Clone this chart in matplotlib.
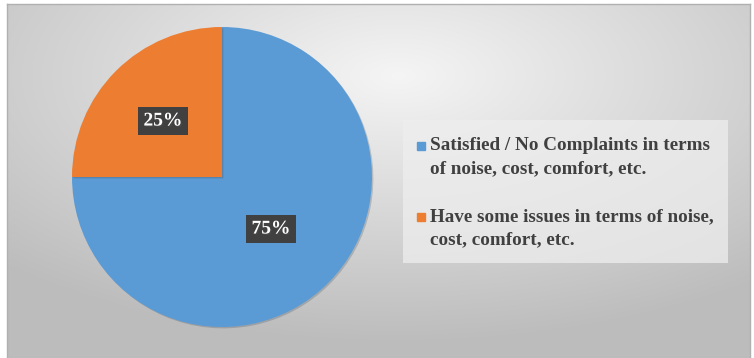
import numpy as np
import matplotlib.pyplot as plt
import matplotlib.patheffects as pe
from matplotlib.patches import Rectangle

# data
labels = ['Satisfied / No Complaints in terms\nof noise, cost, comfort, etc.',
          'Have some issues in terms of noise,\ncost, comfort, etc.']
shares = [75, 25]
colors = ['#5B9BD5', '#ED7D31']

W, H = 754, 358
fig = plt.figure(figsize=(W / 100, H / 100), dpi=100)
fig.patch.set_facecolor('white')

# radial grey gradient background
bg = fig.add_axes([7 / W, 0, (W - 11) / W, (H - 4) / H])
yy, xx = np.mgrid[0:200, 0:400]
cx, cy = 210, 40
d = np.sqrt(((xx - cx) / 400) ** 2 + ((yy - cy) / 200) ** 2)
g = 0.96 - 0.22 * np.clip(d / 0.75, 0, 1)
bg.imshow(np.dstack([g, g, g]), aspect='auto', extent=[0, 1, 0, 1], origin='upper')
bg.set_xlim(0, 1)
bg.set_ylim(0, 1)
for s in bg.spines.values():
    s.set_color('#b0b0b0')
    s.set_linewidth(1)
bg.spines['bottom'].set_visible(False)
bg.set_xticks([])
bg.set_yticks([])

# pie
r = 150
ax = fig.add_axes([(222 - r) / W, (H - 177 - r) / H, 2 * r / W, 2 * r / H])
wedges, _ = ax.pie(shares, colors=colors, startangle=90, counterclock=False,
                   radius=1, wedgeprops=dict(linewidth=0))
for w in wedges:
    w.set_path_effects([pe.SimplePatchShadow(offset=(1, -1), alpha=0.2), pe.Normal()])
ax.set_xlim(-1, 1)
ax.set_ylim(-1, 1)
ax.set_aspect('equal')
ax.axis('off')

# data labels
label_pos = [(0.327, -0.347), (-0.393, 0.373)]
for (x, y), v in zip(label_pos, shares):
    ax.text(x, y, f'{v}%', ha='center', va='center', color='white',
            fontsize=14, fontweight='bold', family='Liberation Serif',
            bbox=dict(boxstyle='square,pad=0.3', fc='#404040', ec='none'),
            path_effects=[pe.withSimplePatchShadow(offset=(1, -1), alpha=0.5)])

# legend
lx0, ly0, lx1, ly1 = 403, 120, 728, 263
box = fig.add_axes([lx0 / W, (H - ly1) / H, (lx1 - lx0) / W, (ly1 - ly0) / H])
box.set_facecolor('#eeeeee')
box.patch.set_alpha(0.75)
for s in box.spines.values():
    s.set_visible(False)
box.set_xticks([])
box.set_yticks([])
box.set_xlim(0, lx1 - lx0)
box.set_ylim(ly1 - ly0, 0)
rows = [(146 - ly0, 169 - ly0), (217 - ly0, 240 - ly0)]
for (y1, y2), lab, c in zip(rows, labels, colors):
    box.add_patch(Rectangle((14, y1 - 4), 8, 8, color=c))
    first, second = lab.split('\n')
    box.text(27, y1, first, va='center', ha='left', color='#404040',
             fontsize=13.8, fontweight='bold', family='Liberation Serif')
    box.text(27, y2, second, va='center', ha='left', color='#404040',
             fontsize=13.8, fontweight='bold', family='Liberation Serif')

fig.savefig('out.png', dpi=100)
